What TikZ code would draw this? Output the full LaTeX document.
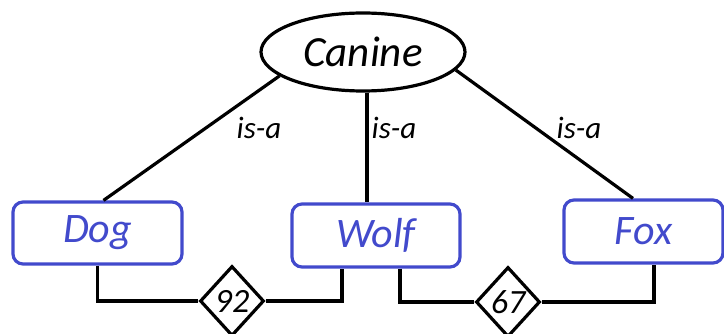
\documentclass[tikz,border=0pt]{standalone}
\usepackage{fontspec}
\setmainfont{Carlito}
\usetikzlibrary{shapes.geometric}
\definecolor{boxblue}{RGB}{66,74,204}
\tikzset{
  conn/.style={line width=3.2pt},
  classbox/.style={draw=boxblue, line width=3.2pt, rounded corners=10pt, text=boxblue,
    font=\fontsize{42}{42}\selectfont\itshape, inner sep=0pt},
  relbox/.style={draw, line width=3.2pt, diamond, inner sep=0pt, minimum width=64pt,
    minimum height=70pt, font=\fontsize{34}{34}\selectfont\itshape},
  lbl/.style={font=\fontsize{31}{31}\selectfont\itshape, inner sep=0pt}
}
\begin{document}
\begin{tikzpicture}[x=1pt,y=-1pt]
\useasboundingbox (0,0) rectangle (724,334);
\node[draw, ellipse, line width=3.2pt, minimum width=204pt, minimum height=78pt, inner sep=0pt,
  font=\fontsize{43}{43}\selectfont\itshape] (Canine) at (363,52) {Canine};
\node[classbox, minimum width=169pt, minimum height=62pt] (Dog) at (97.5,233) {Dog};
\node[classbox, minimum width=168pt, minimum height=63pt] (Wolf) at (376,235.5) {Wolf};
\node[classbox, minimum width=159pt, minimum height=63pt] (Fox) at (643.5,231.5) {Fox};
\node[relbox] (R1) at (232,301) {92};
\node[relbox] (R2) at (508,302) {67};
\draw[conn] ([xshift=6pt]Dog.north) -- (Canine.196);
\draw[conn] ([xshift=-10.5pt]Fox.north) -- (Canine.349);
\draw[conn] ([xshift=4pt]Canine.south) -- ([xshift=4pt]Canine.south |- Wolf.north);
\draw[conn] (Dog.south) |- (R1.west);
\draw[conn] (R1.east) -| ([xshift=-34pt]Wolf.south);
\draw[conn] ([xshift=24pt]Wolf.south) |- (R2.west);
\draw[conn] (R2.east) -| ([xshift=10.5pt]Fox.south);
\node[lbl] (L1) at (259,128) {is-a};
\node[lbl] (L2) at (394,128) {is-a};
\node[lbl] (L3) at (579,128) {is-a};
\end{tikzpicture}
\end{document}
